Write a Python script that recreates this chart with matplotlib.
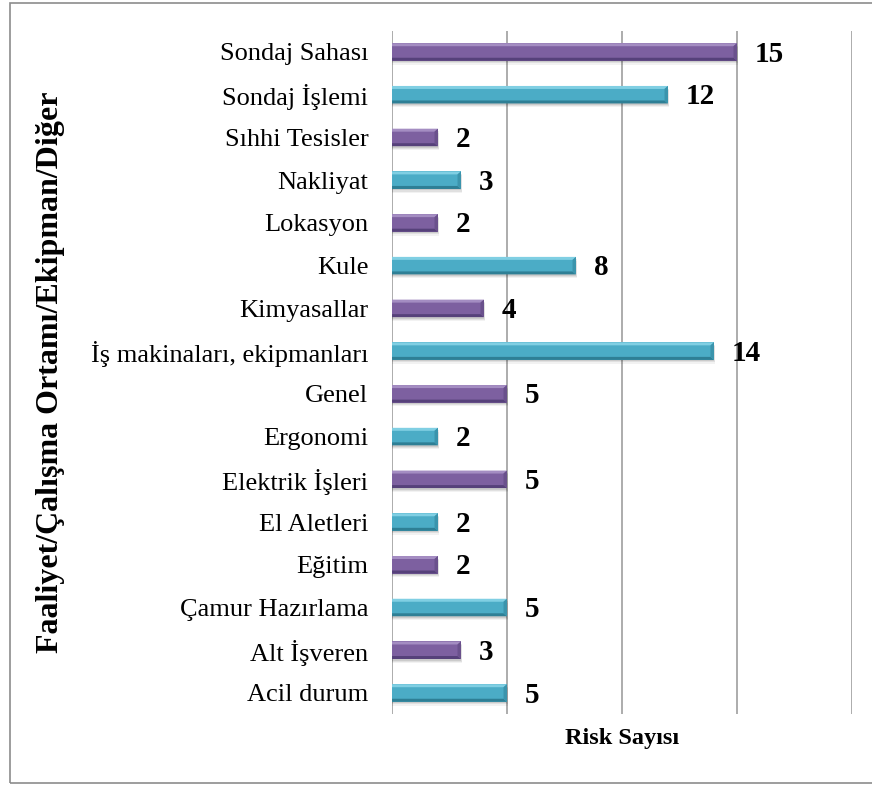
import matplotlib.pyplot as plt
from matplotlib.patches import Polygon, Rectangle
import numpy as np

plt.rcParams['font.family'] = ['Liberation Serif', 'DejaVu Serif']

# risk counts per activity / work area / equipment (bottom to top)
categories = ["Acil durum", "Alt İşveren", "Çamur Hazırlama", "Eğitim",
              "El Aletleri", "Elektrik İşleri", "Ergonomi", "Genel",
              "İş makinaları, ekipmanları", "Kimyasallar", "Kule", "Lokasyon",
              "Nakliyat", "Sıhhi Tesisler", "Sondaj İşlemi", "Sondaj Sahası"]
risks = [5, 3, 5, 2, 2, 5, 2, 5, 14, 4, 8, 2, 3, 2, 12, 15]

teal = ("#4BACC6", "#80CFE3", "#2E7F95", "#3B94AC")
purple = ("#7D60A0", "#A48DC2", "#56417A", "#6A518C")

fig = plt.figure(figsize=(8.72, 7.85), dpi=100)
ax = fig.add_axes([0.4495, 0.090, 0.977 - 0.4495, 0.961 - 0.090])

y = np.arange(len(categories))
h = 0.41
cols = [teal if i % 2 == 0 else purple for i in range(len(categories))]

# soft shadow under each bar
for k, v in enumerate(risks):
    for off, a in [(0.09, 0.05), (0.06, 0.07), (0.035, 0.09)]:
        ax.add_patch(Rectangle((0, y[k] - h / 2 - off), v + off * 0.6, h,
                               color="black", alpha=a, lw=0, zorder=2))

bars = ax.barh(y, risks, height=h, color=[c[0] for c in cols], zorder=3)

# bevelled edges
bx, by = 0.15, 0.07
for k, v in enumerate(risks):
    c = cols[k]
    top, bot = y[k] + h / 2, y[k] - h / 2
    ax.add_patch(Polygon([(0, top), (v, top), (v - bx, top - by), (0, top - by)],
                         closed=True, color=c[1], lw=0, zorder=4))
    ax.add_patch(Polygon([(0, bot), (v, bot), (v - bx, bot + by), (0, bot + by)],
                         closed=True, color=c[2], lw=0, zorder=4))
    ax.add_patch(Polygon([(v, top), (v, bot), (v - bx, bot + by), (v - bx, top - by)],
                         closed=True, color=c[3], lw=0, zorder=4))
    ax.annotate(str(v), (v, y[k]), xytext=(13, -1.5), textcoords="offset points",
                ha="left", va="center", fontsize=21, fontweight="bold", zorder=5)

ax.set_xlim(0, 20)
ax.set_ylim(-0.5, len(categories) - 0.5)
ax.set_xticks([0, 5, 10, 15, 20])
ax.set_yticks(y)
ax.set_yticklabels(categories, fontsize=19)
ax.tick_params(axis="x", length=0, labelbottom=False)
ax.tick_params(axis="y", length=0, pad=17)
ax.grid(axis="x", color="#A6A6A6", lw=1.3)
ax.set_axisbelow(True)
for s in ax.spines.values():
    s.set_visible(False)

ax.set_xlabel("Risk Sayısı", fontsize=17.5, fontweight="bold", labelpad=10)
fig.text(0.058, (0.961 + 0.090) / 2, "Faaliyet/Çalışma Ortamı/Ekipman/Diğer",
         rotation=90, ha="center", va="center", fontsize=23, fontweight="bold")

# chart frame
fig.patches.append(Rectangle((0.0109, 0.002), 1.1, 0.9948, transform=fig.transFigure,
                             fill=False, edgecolor="#8C8C8C", lw=1.2))

fig.savefig("out.png", dpi=100)
